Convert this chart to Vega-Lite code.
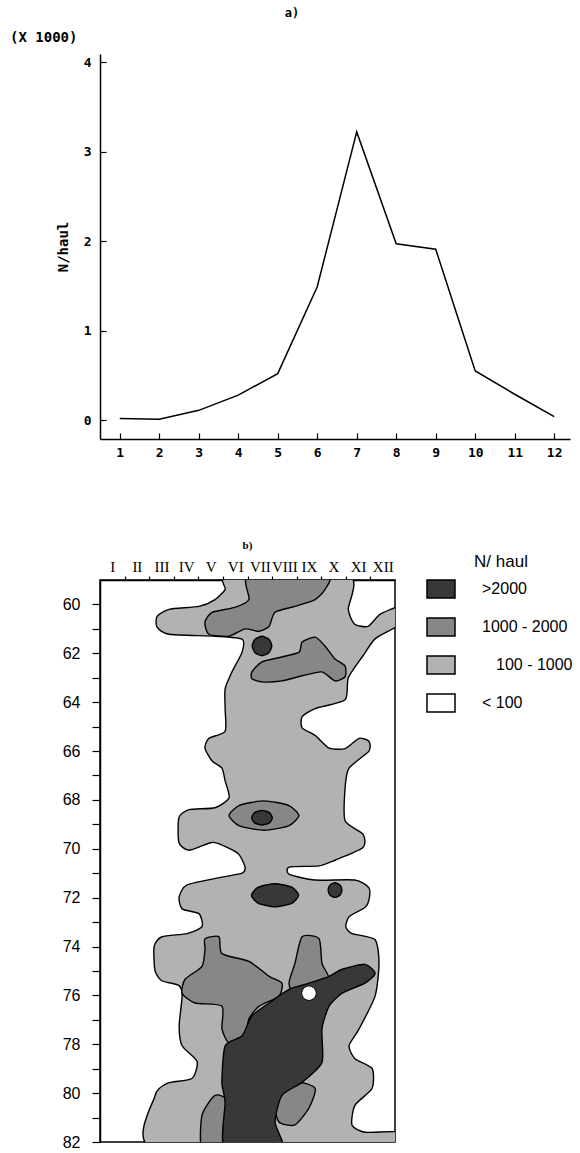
{
  "$schema": "https://vega.github.io/schema/vega-lite/v6.json",
  "padding": {"left": 10, "top": 7, "right": 0, "bottom": 0},
  "title": {"text": "a)", "anchor": "middle", "fontSize": 12, "font": "DejaVu Sans Mono", "fontWeight": "bold", "offset": 11},
  "config": {
    "view": {"stroke": null},
    "axis": {"grid": false, "domainColor": "black", "tickColor": "black", "labelColor": "black", "titleColor": "black", "domainWidth": 1.5, "tickWidth": 1.2},
    "font": "Liberation Sans"
  },
  "spacing": 141,
  "bounds": "flush",
  "resolve": {"scale": {"fill": "independent"}, "legend": {"fill": "independent"}},
  "datasets": {
    "monthly": [
      {"month": 1, "n": 0.02}, {"month": 2, "n": 0.01}, {"month": 3, "n": 0.11}, {"month": 4, "n": 0.28},
      {"month": 5, "n": 0.52}, {"month": 6, "n": 1.49}, {"month": 7, "n": 3.22}, {"month": 8, "n": 1.97},
      {"month": 9, "n": 1.91}, {"month": 10, "n": 0.55}, {"month": 11, "n": 0.29}, {"month": 12, "n": 0.04}
    ],
    "poly": [
      {"p":"h1","c":"100 - 1000","i":1,"m":5.75,"lat":58.8},
      {"p":"h1","c":"100 - 1000","i":2,"m":10.6,"lat":58.8},
      {"p":"h1","c":"100 - 1000","i":3,"m":10.6,"lat":60.2},
      {"p":"h1","c":"100 - 1000","i":4,"m":10.85,"lat":60.8},
      {"p":"h1","c":"100 - 1000","i":5,"m":11.4,"lat":60.9},
      {"p":"h1","c":"100 - 1000","i":6,"m":11.9,"lat":60.4},
      {"p":"h1","c":"100 - 1000","i":7,"m":12.7,"lat":60.1},
      {"p":"h1","c":"100 - 1000","i":8,"m":12.7,"lat":60.8},
      {"p":"h1","c":"100 - 1000","i":9,"m":11.7,"lat":61.4},
      {"p":"h1","c":"100 - 1000","i":10,"m":11.2,"lat":62.1},
      {"p":"h1","c":"100 - 1000","i":11,"m":10.6,"lat":63.0},
      {"p":"h1","c":"100 - 1000","i":12,"m":10.47,"lat":63.9},
      {"p":"h1","c":"100 - 1000","i":13,"m":9.25,"lat":64.26},
      {"p":"h1","c":"100 - 1000","i":14,"m":8.72,"lat":64.6},
      {"p":"h1","c":"100 - 1000","i":15,"m":8.72,"lat":65.05},
      {"p":"h1","c":"100 - 1000","i":16,"m":9.25,"lat":65.36},
      {"p":"h1","c":"100 - 1000","i":17,"m":9.82,"lat":65.88},
      {"p":"h1","c":"100 - 1000","i":18,"m":10.47,"lat":65.9},
      {"p":"h1","c":"100 - 1000","i":19,"m":11.04,"lat":65.48},
      {"p":"h1","c":"100 - 1000","i":20,"m":11.44,"lat":65.6},
      {"p":"h1","c":"100 - 1000","i":21,"m":11.44,"lat":66.0},
      {"p":"h1","c":"100 - 1000","i":22,"m":10.63,"lat":66.7},
      {"p":"h1","c":"100 - 1000","i":23,"m":10.47,"lat":67.5},
      {"p":"h1","c":"100 - 1000","i":24,"m":10.47,"lat":68.85},
      {"p":"h1","c":"100 - 1000","i":25,"m":11.2,"lat":69.4},
      {"p":"h1","c":"100 - 1000","i":26,"m":11.2,"lat":69.95},
      {"p":"h1","c":"100 - 1000","i":27,"m":10.06,"lat":70.47},
      {"p":"h1","c":"100 - 1000","i":28,"m":9.41,"lat":70.7},
      {"p":"h1","c":"100 - 1000","i":29,"m":8.2,"lat":70.75},
      {"p":"h1","c":"100 - 1000","i":30,"m":8.2,"lat":71.05},
      {"p":"h1","c":"100 - 1000","i":31,"m":9.25,"lat":71.28},
      {"p":"h1","c":"100 - 1000","i":32,"m":10.87,"lat":71.28},
      {"p":"h1","c":"100 - 1000","i":33,"m":11.44,"lat":71.6},
      {"p":"h1","c":"100 - 1000","i":34,"m":11.44,"lat":72.1},
      {"p":"h1","c":"100 - 1000","i":35,"m":11.28,"lat":72.4},
      {"p":"h1","c":"100 - 1000","i":36,"m":10.63,"lat":72.78},
      {"p":"h1","c":"100 - 1000","i":37,"m":10.5,"lat":73.2},
      {"p":"h1","c":"100 - 1000","i":38,"m":10.75,"lat":73.47},
      {"p":"h1","c":"100 - 1000","i":39,"m":11.69,"lat":73.72},
      {"p":"h1","c":"100 - 1000","i":40,"m":11.85,"lat":74.69},
      {"p":"h1","c":"100 - 1000","i":41,"m":11.69,"lat":76.03},
      {"p":"h1","c":"100 - 1000","i":42,"m":11.04,"lat":77.37},
      {"p":"h1","c":"100 - 1000","i":43,"m":10.63,"lat":78.06},
      {"p":"h1","c":"100 - 1000","i":44,"m":10.87,"lat":78.59},
      {"p":"h1","c":"100 - 1000","i":45,"m":11.57,"lat":78.99},
      {"p":"h1","c":"100 - 1000","i":46,"m":11.57,"lat":79.8},
      {"p":"h1","c":"100 - 1000","i":47,"m":10.87,"lat":80.5},
      {"p":"h1","c":"100 - 1000","i":48,"m":10.75,"lat":81.3},
      {"p":"h1","c":"100 - 1000","i":49,"m":11.28,"lat":81.6},
      {"p":"h1","c":"100 - 1000","i":50,"m":12.7,"lat":81.6},
      {"p":"h1","c":"100 - 1000","i":51,"m":12.7,"lat":82.3},
      {"p":"h1","c":"100 - 1000","i":52,"m":2.74,"lat":82.3},
      {"p":"h1","c":"100 - 1000","i":53,"m":2.74,"lat":80.1},
      {"p":"h1","c":"100 - 1000","i":54,"m":3.23,"lat":79.6},
      {"p":"h1","c":"100 - 1000","i":55,"m":4.24,"lat":79.4},
      {"p":"h1","c":"100 - 1000","i":56,"m":4.45,"lat":78.7},
      {"p":"h1","c":"100 - 1000","i":57,"m":3.84,"lat":78.06},
      {"p":"h1","c":"100 - 1000","i":58,"m":3.72,"lat":77.25},
      {"p":"h1","c":"100 - 1000","i":59,"m":3.84,"lat":76.03},
      {"p":"h1","c":"100 - 1000","i":60,"m":3.72,"lat":75.6},
      {"p":"h1","c":"100 - 1000","i":61,"m":3.02,"lat":75.4},
      {"p":"h1","c":"100 - 1000","i":62,"m":2.74,"lat":75.0},
      {"p":"h1","c":"100 - 1000","i":63,"m":2.7,"lat":74.0},
      {"p":"h1","c":"100 - 1000","i":64,"m":3.02,"lat":73.6},
      {"p":"h1","c":"100 - 1000","i":65,"m":4.04,"lat":73.47},
      {"p":"h1","c":"100 - 1000","i":66,"m":4.65,"lat":73.19},
      {"p":"h1","c":"100 - 1000","i":67,"m":4.53,"lat":72.66},
      {"p":"h1","c":"100 - 1000","i":68,"m":3.84,"lat":72.46},
      {"p":"h1","c":"100 - 1000","i":69,"m":3.72,"lat":71.97},
      {"p":"h1","c":"100 - 1000","i":70,"m":4.04,"lat":71.48},
      {"p":"h1","c":"100 - 1000","i":71,"m":5.46,"lat":71.16},
      {"p":"h1","c":"100 - 1000","i":72,"m":6.28,"lat":71.0},
      {"p":"h1","c":"100 - 1000","i":73,"m":6.4,"lat":70.75},
      {"p":"h1","c":"100 - 1000","i":74,"m":6.15,"lat":70.23},
      {"p":"h1","c":"100 - 1000","i":75,"m":5.67,"lat":69.94},
      {"p":"h1","c":"100 - 1000","i":76,"m":5.06,"lat":69.74},
      {"p":"h1","c":"100 - 1000","i":77,"m":4.12,"lat":70.06},
      {"p":"h1","c":"100 - 1000","i":78,"m":3.71,"lat":69.74},
      {"p":"h1","c":"100 - 1000","i":79,"m":3.71,"lat":68.73},
      {"p":"h1","c":"100 - 1000","i":80,"m":4.12,"lat":68.4},
      {"p":"h1","c":"100 - 1000","i":81,"m":5.18,"lat":68.32},
      {"p":"h1","c":"100 - 1000","i":82,"m":5.75,"lat":67.91},
      {"p":"h1","c":"100 - 1000","i":83,"m":5.59,"lat":67.22},
      {"p":"h1","c":"100 - 1000","i":84,"m":5.46,"lat":66.7},
      {"p":"h1","c":"100 - 1000","i":85,"m":5.06,"lat":66.41},
      {"p":"h1","c":"100 - 1000","i":86,"m":4.77,"lat":65.88},
      {"p":"h1","c":"100 - 1000","i":87,"m":4.93,"lat":65.48},
      {"p":"h1","c":"100 - 1000","i":88,"m":5.59,"lat":65.19},
      {"p":"h1","c":"100 - 1000","i":89,"m":5.59,"lat":64.26},
      {"p":"h1","c":"100 - 1000","i":90,"m":5.59,"lat":63.45},
      {"p":"h1","c":"100 - 1000","i":91,"m":5.87,"lat":62.76},
      {"p":"h1","c":"100 - 1000","i":92,"m":6.28,"lat":61.95},
      {"p":"h1","c":"100 - 1000","i":93,"m":6.28,"lat":61.42},
      {"p":"h1","c":"100 - 1000","i":94,"m":5.18,"lat":61.3},
      {"p":"h1","c":"100 - 1000","i":95,"m":3.31,"lat":61.22},
      {"p":"h1","c":"100 - 1000","i":96,"m":2.82,"lat":60.93},
      {"p":"h1","c":"100 - 1000","i":97,"m":2.82,"lat":60.49},
      {"p":"h1","c":"100 - 1000","i":98,"m":3.31,"lat":60.2},
      {"p":"h1","c":"100 - 1000","i":99,"m":4.53,"lat":60.08},
      {"p":"h1","c":"100 - 1000","i":100,"m":5.18,"lat":59.8},
      {"p":"h1","c":"100 - 1000","i":101,"m":5.59,"lat":59.39},

      {"p":"c1","c":"1000 - 2000","i":1,"m":6.56,"lat":58.8},
      {"p":"c1","c":"1000 - 2000","i":2,"m":9.73,"lat":58.8},
      {"p":"c1","c":"1000 - 2000","i":3,"m":9.65,"lat":59.39},
      {"p":"c1","c":"1000 - 2000","i":4,"m":9.25,"lat":59.8},
      {"p":"c1","c":"1000 - 2000","i":5,"m":8.43,"lat":60.08},
      {"p":"c1","c":"1000 - 2000","i":6,"m":7.62,"lat":60.32},
      {"p":"c1","c":"1000 - 2000","i":7,"m":7.38,"lat":60.89},
      {"p":"c1","c":"1000 - 2000","i":8,"m":6.97,"lat":61.1},
      {"p":"c1","c":"1000 - 2000","i":9,"m":6.4,"lat":61.0},
      {"p":"c1","c":"1000 - 2000","i":10,"m":5.75,"lat":61.3},
      {"p":"c1","c":"1000 - 2000","i":11,"m":4.93,"lat":61.22},
      {"p":"c1","c":"1000 - 2000","i":12,"m":4.77,"lat":60.73},
      {"p":"c1","c":"1000 - 2000","i":13,"m":5.06,"lat":60.32},
      {"p":"c1","c":"1000 - 2000","i":14,"m":5.99,"lat":60.12},
      {"p":"c1","c":"1000 - 2000","i":15,"m":6.56,"lat":59.8},

      {"p":"c2","c":"1000 - 2000","i":1,"m":6.68,"lat":62.76},
      {"p":"c2","c":"1000 - 2000","i":2,"m":7.09,"lat":62.35},
      {"p":"c2","c":"1000 - 2000","i":3,"m":7.9,"lat":62.15},
      {"p":"c2","c":"1000 - 2000","i":4,"m":8.6,"lat":61.95},
      {"p":"c2","c":"1000 - 2000","i":5,"m":8.72,"lat":61.54},
      {"p":"c2","c":"1000 - 2000","i":6,"m":9.25,"lat":61.34},
      {"p":"c2","c":"1000 - 2000","i":7,"m":9.65,"lat":61.7},
      {"p":"c2","c":"1000 - 2000","i":8,"m":10.06,"lat":62.23},
      {"p":"c2","c":"1000 - 2000","i":9,"m":10.47,"lat":62.52},
      {"p":"c2","c":"1000 - 2000","i":10,"m":10.47,"lat":62.96},
      {"p":"c2","c":"1000 - 2000","i":11,"m":10.06,"lat":63.13},
      {"p":"c2","c":"1000 - 2000","i":12,"m":9.53,"lat":62.76},
      {"p":"c2","c":"1000 - 2000","i":13,"m":8.72,"lat":62.92},
      {"p":"c2","c":"1000 - 2000","i":14,"m":7.9,"lat":63.13},
      {"p":"c2","c":"1000 - 2000","i":15,"m":7.09,"lat":63.17},
      {"p":"c2","c":"1000 - 2000","i":16,"m":6.68,"lat":63.04},

      {"p":"c3","c":"1000 - 2000","i":1,"m":8.59,"lat":68.64},
      {"p":"c3","c":"1000 - 2000","i":2,"m":8.17,"lat":69.06},
      {"p":"c3","c":"1000 - 2000","i":3,"m":7.17,"lat":69.24},
      {"p":"c3","c":"1000 - 2000","i":4,"m":6.17,"lat":69.06},
      {"p":"c3","c":"1000 - 2000","i":5,"m":5.75,"lat":68.64},
      {"p":"c3","c":"1000 - 2000","i":6,"m":6.17,"lat":68.22},
      {"p":"c3","c":"1000 - 2000","i":7,"m":7.17,"lat":68.04},
      {"p":"c3","c":"1000 - 2000","i":8,"m":8.17,"lat":68.22},

      {"p":"c4","c":"1000 - 2000","i":1,"m":4.77,"lat":73.68},
      {"p":"c4","c":"1000 - 2000","i":2,"m":5.34,"lat":73.6},
      {"p":"c4","c":"1000 - 2000","i":3,"m":5.46,"lat":74.29},
      {"p":"c4","c":"1000 - 2000","i":4,"m":6.56,"lat":74.61},
      {"p":"c4","c":"1000 - 2000","i":5,"m":7.38,"lat":75.22},
      {"p":"c4","c":"1000 - 2000","i":6,"m":7.9,"lat":75.5},
      {"p":"c4","c":"1000 - 2000","i":7,"m":7.78,"lat":76.03},
      {"p":"c4","c":"1000 - 2000","i":8,"m":6.97,"lat":76.44},
      {"p":"c4","c":"1000 - 2000","i":9,"m":6.56,"lat":76.96},
      {"p":"c4","c":"1000 - 2000","i":10,"m":6.4,"lat":77.65},
      {"p":"c4","c":"1000 - 2000","i":11,"m":5.75,"lat":77.94},
      {"p":"c4","c":"1000 - 2000","i":12,"m":5.46,"lat":77.37},
      {"p":"c4","c":"1000 - 2000","i":13,"m":5.46,"lat":76.44},
      {"p":"c4","c":"1000 - 2000","i":14,"m":4.36,"lat":76.31},
      {"p":"c4","c":"1000 - 2000","i":15,"m":3.84,"lat":75.91},
      {"p":"c4","c":"1000 - 2000","i":16,"m":3.96,"lat":75.34},
      {"p":"c4","c":"1000 - 2000","i":17,"m":4.65,"lat":74.81},
      {"p":"c4","c":"1000 - 2000","i":18,"m":4.77,"lat":74.12},

      {"p":"c5","c":"1000 - 2000","i":1,"m":8.72,"lat":73.6},
      {"p":"c5","c":"1000 - 2000","i":2,"m":9.41,"lat":73.68},
      {"p":"c5","c":"1000 - 2000","i":3,"m":9.53,"lat":74.69},
      {"p":"c5","c":"1000 - 2000","i":4,"m":9.82,"lat":75.34},
      {"p":"c5","c":"1000 - 2000","i":5,"m":9.25,"lat":76.03},
      {"p":"c5","c":"1000 - 2000","i":6,"m":8.43,"lat":76.03},
      {"p":"c5","c":"1000 - 2000","i":7,"m":8.19,"lat":75.5},
      {"p":"c5","c":"1000 - 2000","i":8,"m":8.43,"lat":74.69},

      {"p":"c6","c":"1000 - 2000","i":1,"m":5.18,"lat":80.09},
      {"p":"c6","c":"1000 - 2000","i":2,"m":5.7,"lat":80.37},
      {"p":"c6","c":"1000 - 2000","i":3,"m":5.7,"lat":82.3},
      {"p":"c6","c":"1000 - 2000","i":4,"m":4.65,"lat":82.3},
      {"p":"c6","c":"1000 - 2000","i":5,"m":4.65,"lat":80.9},

      {"p":"c7","c":"1000 - 2000","i":1,"m":8.43,"lat":79.56},
      {"p":"c7","c":"1000 - 2000","i":2,"m":9.25,"lat":79.8},
      {"p":"c7","c":"1000 - 2000","i":3,"m":9.0,"lat":80.61},
      {"p":"c7","c":"1000 - 2000","i":4,"m":8.43,"lat":81.3},
      {"p":"c7","c":"1000 - 2000","i":5,"m":7.78,"lat":81.18},
      {"p":"c7","c":"1000 - 2000","i":6,"m":7.62,"lat":80.37},

      {"p":"d1","c":">2000","i":1,"m":7.49,"lat":61.7},
      {"p":"d1","c":">2000","i":2,"m":7.37,"lat":61.98},
      {"p":"d1","c":">2000","i":3,"m":7.09,"lat":62.1},
      {"p":"d1","c":">2000","i":4,"m":6.81,"lat":61.98},
      {"p":"d1","c":">2000","i":5,"m":6.69,"lat":61.7},
      {"p":"d1","c":">2000","i":6,"m":6.81,"lat":61.42},
      {"p":"d1","c":">2000","i":7,"m":7.09,"lat":61.3},
      {"p":"d1","c":">2000","i":8,"m":7.37,"lat":61.42},

      {"p":"d2","c":">2000","i":1,"m":7.51,"lat":68.73},
      {"p":"d2","c":">2000","i":2,"m":7.39,"lat":68.94},
      {"p":"d2","c":">2000","i":3,"m":7.09,"lat":69.03},
      {"p":"d2","c":">2000","i":4,"m":6.79,"lat":68.94},
      {"p":"d2","c":">2000","i":5,"m":6.67,"lat":68.73},
      {"p":"d2","c":">2000","i":6,"m":6.79,"lat":68.52},
      {"p":"d2","c":">2000","i":7,"m":7.09,"lat":68.43},
      {"p":"d2","c":">2000","i":8,"m":7.39,"lat":68.52},

      {"p":"d3","c":">2000","i":1,"m":8.58,"lat":71.9},
      {"p":"d3","c":">2000","i":2,"m":8.3,"lat":72.23},
      {"p":"d3","c":">2000","i":3,"m":7.62,"lat":72.37},
      {"p":"d3","c":">2000","i":4,"m":6.94,"lat":72.23},
      {"p":"d3","c":">2000","i":5,"m":6.66,"lat":71.9},
      {"p":"d3","c":">2000","i":6,"m":6.94,"lat":71.57},
      {"p":"d3","c":">2000","i":7,"m":7.62,"lat":71.43},
      {"p":"d3","c":">2000","i":8,"m":8.3,"lat":71.57},

      {"p":"d4","c":">2000","i":1,"m":10.34,"lat":71.69},
      {"p":"d4","c":">2000","i":2,"m":10.26,"lat":71.9},
      {"p":"d4","c":">2000","i":3,"m":10.06,"lat":71.99},
      {"p":"d4","c":">2000","i":4,"m":9.86,"lat":71.9},
      {"p":"d4","c":">2000","i":5,"m":9.78,"lat":71.69},
      {"p":"d4","c":">2000","i":6,"m":9.86,"lat":71.48},
      {"p":"d4","c":">2000","i":7,"m":10.06,"lat":71.39},
      {"p":"d4","c":">2000","i":8,"m":10.26,"lat":71.48},

      {"p":"d5","c":">2000","i":1,"m":10.35,"lat":74.93},
      {"p":"d5","c":">2000","i":2,"m":11.28,"lat":74.73},
      {"p":"d5","c":">2000","i":3,"m":11.69,"lat":75.1},
      {"p":"d5","c":">2000","i":4,"m":11.28,"lat":75.5},
      {"p":"d5","c":">2000","i":5,"m":10.35,"lat":75.91},
      {"p":"d5","c":">2000","i":6,"m":9.82,"lat":76.44},
      {"p":"d5","c":">2000","i":7,"m":9.53,"lat":77.37},
      {"p":"d5","c":">2000","i":8,"m":9.53,"lat":78.75},
      {"p":"d5","c":">2000","i":9,"m":8.72,"lat":79.56},
      {"p":"d5","c":">2000","i":10,"m":7.9,"lat":80.09},
      {"p":"d5","c":">2000","i":11,"m":7.62,"lat":81.18},
      {"p":"d5","c":">2000","i":12,"m":7.9,"lat":82.3},
      {"p":"d5","c":">2000","i":13,"m":5.59,"lat":82.3},
      {"p":"d5","c":">2000","i":14,"m":5.59,"lat":80.37},
      {"p":"d5","c":">2000","i":15,"m":5.46,"lat":79.56},
      {"p":"d5","c":">2000","i":16,"m":5.59,"lat":78.06},
      {"p":"d5","c":">2000","i":17,"m":6.28,"lat":77.65},
      {"p":"d5","c":">2000","i":18,"m":6.68,"lat":76.84},
      {"p":"d5","c":">2000","i":19,"m":7.38,"lat":76.31},
      {"p":"d5","c":">2000","i":20,"m":8.19,"lat":75.75},
      {"p":"d5","c":">2000","i":21,"m":9.0,"lat":75.5},
      {"p":"d5","c":">2000","i":22,"m":9.82,"lat":75.22},

      {"p":"w1","c":"< 100","i":1,"m":9.3,"lat":75.91},
      {"p":"w1","c":"< 100","i":2,"m":9.21,"lat":76.12},
      {"p":"w1","c":"< 100","i":3,"m":9.0,"lat":76.21},
      {"p":"w1","c":"< 100","i":4,"m":8.79,"lat":76.12},
      {"p":"w1","c":"< 100","i":5,"m":8.7,"lat":75.91},
      {"p":"w1","c":"< 100","i":6,"m":8.79,"lat":75.7},
      {"p":"w1","c":"< 100","i":7,"m":9.0,"lat":75.61},
      {"p":"w1","c":"< 100","i":8,"m":9.21,"lat":75.7}
    ]
  },
  "vconcat": [
    {
      "width": 470,
      "height": 385,
      "title": {"text": "(X 1000)", "anchor": "start", "frame": "group", "dx": -90, "offset": 9, "font": "DejaVu Sans Mono", "fontSize": 14, "fontWeight": "bold"},
      "data": {"name": "monthly"},
      "mark": {"type": "line", "color": "black", "strokeWidth": 1.5},
      "encoding": {
        "x": {
          "field": "month", "type": "quantitative",
          "scale": {"domain": [0.5, 12.4], "nice": false, "zero": false},
          "axis": {"values": [1, 2, 3, 4, 5, 6, 7, 8, 9, 10, 11, 12], "title": null, "tickSize": -6, "labelPadding": 13,
                   "labelFont": "DejaVu Sans Mono", "labelFontSize": 13, "labelFontWeight": "bold", "labelFlush": false, "labelOverlap": false}
        },
        "y": {
          "field": "n", "type": "quantitative",
          "scale": {"domain": [-0.21, 4.09], "nice": false, "zero": false},
          "axis": {"values": [0, 1, 2, 3, 4], "title": "N/haul", "tickSize": -6, "labelPadding": 15,
                   "labelFont": "DejaVu Sans Mono", "labelFontSize": 13, "labelFontWeight": "bold",
                   "titleFont": "DejaVu Sans Mono", "titleFontSize": 14, "titleFontWeight": "bold", "titlePadding": 13}
        }
      }
    },
    {
      "width": 295,
      "height": 562,
      "title": {"text": "b)", "anchor": "middle", "frame": "group", "font": "Liberation Serif", "fontSize": 11, "fontWeight": "bold", "offset": 3},
      "view": {"stroke": "black", "strokeWidth": 1.5},
      "data": {"name": "poly"},
      "encoding": {
        "x": {
          "field": "m", "type": "quantitative",
          "scale": {"domain": [0.5, 12.5], "nice": false, "zero": false},
          "axis": {
            "orient": "top", "title": null,
            "values": [1, 1.5, 2, 2.5, 3, 3.5, 4, 4.5, 5, 5.5, 6, 6.5, 7, 7.5, 8, 8.5, 9, 9.5, 10, 10.5, 11, 11.5, 12],
            "labelExpr": "datum.value % 1 === 0 ? ['I','II','III','IV','V','VI','VII','VIII','IX','X','XI','XII'][datum.value - 1] : ''",
            "tickOpacity": {"condition": {"test": "datum.value % 1 === 0", "value": 0}, "value": 1},
            "tickSize": 4, "labelPadding": 2, "labelFont": "Liberation Serif", "labelFontSize": 15,
            "labelOverlap": false, "labelFlush": false
          }
        },
        "y": {
          "field": "lat", "type": "quantitative",
          "scale": {"domain": [59, 82], "reverse": true, "nice": false, "zero": false},
          "axis": {
            "title": null,
            "values": [60, 61, 62, 63, 64, 65, 66, 67, 68, 69, 70, 71, 72, 73, 74, 75, 76, 77, 78, 79, 80, 81, 82],
            "labelExpr": "datum.value % 2 === 0 ? datum.label : ''",
            "tickSize": 8, "labelPadding": 12, "labelFont": "Liberation Sans", "labelFontSize": 16,
            "labelOverlap": false, "labelFlush": false
          }
        },
        "order": {"field": "i", "type": "quantitative"},
        "detail": {"field": "p", "type": "nominal"},
        "fill": {
          "field": "c", "type": "nominal",
          "scale": {"domain": [">2000", "1000 - 2000", "100 - 1000", "< 100"], "range": ["#383838", "#878787", "#b2b2b2", "#ffffff"]},
          "legend": {
            "title": "N/ haul", "orient": "none", "legendX": 330, "legendY": -26, "direction": "vertical", "padding": 0,
            "symbolType": "M-1.4,-0.9H1.4V0.9H-1.4Z", "symbolSize": 400, "symbolStrokeColor": "black", "symbolStrokeWidth": 1.5,
            "labelFont": "Liberation Sans", "labelFontSize": 16, "labelColor": "black", "labelOffset": 30,
            "titleFont": "Liberation Sans", "titleFontSize": 17, "titleFontWeight": "normal", "titleColor": "black",
            "titleAnchor": "middle", "titlePadding": 7, "rowPadding": 14,
            "encode": {"labels": {"update": {"dx": {"signal": "datum.value === '100 - 1000' ? 14 : 0"}}}}
          }
        }
      },
      "layer": [
        {"transform": [{"filter": "datum.c === '100 - 1000'"}], "mark": {"type": "line", "interpolate": "cardinal-closed", "tension": 0.35, "stroke": "black", "strokeWidth": 1.4, "clip": true}},
        {"transform": [{"filter": "datum.c === '1000 - 2000'"}], "mark": {"type": "line", "interpolate": "cardinal-closed", "tension": 0.35, "stroke": "black", "strokeWidth": 1.4, "clip": true}},
        {"transform": [{"filter": "datum.c === '>2000'"}], "mark": {"type": "line", "interpolate": "cardinal-closed", "tension": 0.35, "stroke": "black", "strokeWidth": 1.4, "clip": true}},
        {"transform": [{"filter": "datum.c === '< 100'"}], "mark": {"type": "line", "interpolate": "cardinal-closed", "tension": 0.35, "stroke": "black", "strokeWidth": 1, "clip": true}},
        {
          "data": {"values": [{"frame": 1}]},
          "mark": {"type": "rect", "stroke": "black", "strokeWidth": 1.5},
          "encoding": {
            "x": {"datum": 0.5, "type": "quantitative"},
            "x2": {"datum": 12.5},
            "y": {"datum": 59, "type": "quantitative"},
            "y2": {"datum": 82},
            "fill": {"value": "transparent"}
          }
        }
      ]
    }
  ]
}
